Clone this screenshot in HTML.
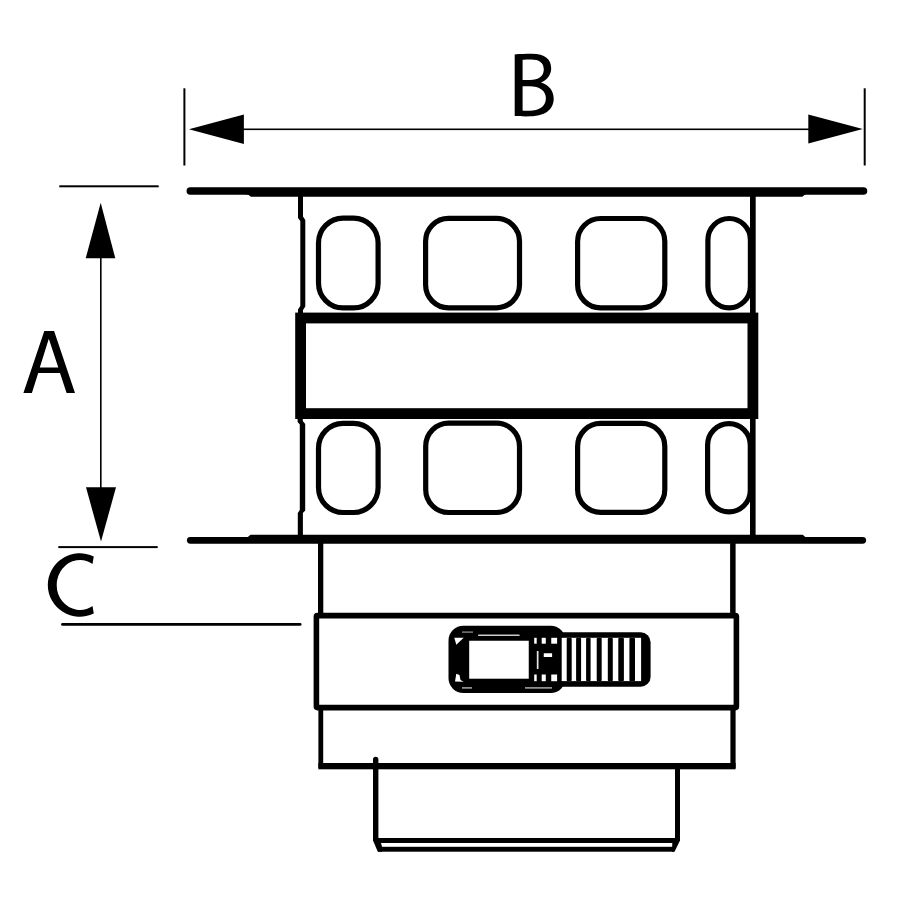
<!DOCTYPE html>
<html><head><meta charset="utf-8">
<style>
html,body{margin:0;padding:0;background:#fff;width:900px;height:900px;overflow:hidden;font-family:"Liberation Sans",sans-serif;}
svg{display:block;}
</style></head>
<body>
<svg width="900" height="900" viewBox="0 0 900 900">
<rect x="0" y="0" width="900" height="900" fill="#fff"/>
<g fill="#000" stroke="none">
  <!-- B dimension -->
  <rect x="183.4" y="88.3" width="2" height="77.2"/>
  <rect x="863.7" y="88.3" width="2" height="77.2"/>
  <rect x="243" y="128.5" width="566" height="1.6"/>
  <polygon points="188.9,129.3 243.9,114.4 243.9,143.9"/>
  <polygon points="862.8,129.1 808.3,114.4 808.3,143.6"/>
  <path fill-rule="evenodd" d="M514.7,54.4 C519,54 526,53.8 532,53.8 C545,53.8 551.2,59.5 551.2,68.5 C551.2,75 547,80 541,82.4 C548.5,84.5 553.7,90.5 553.7,98.5 C553.7,104 551.5,108.5 547.5,111.5 C543,115 536,116.4 526,116.4 C521,116.4 517.5,116.2 514.7,116 Z M522.6,59.8 C524.5,59.6 527.5,59.4 531,59.4 C539,59.4 543.8,62.5 543.8,69.5 C543.8,76 538.5,80 530,80 L522.6,80 Z M522.6,86.2 L529.5,86.2 C539.5,86.2 545.9,90.5 545.9,98.3 C545.9,107 538.5,110.8 529.5,110.8 C526.5,110.8 524.5,110.7 522.6,110.5 Z"/>
  <!-- A dimension -->
  <rect x="59.3" y="185.3" width="99.4" height="2"/>
  <rect x="58.3" y="546.1" width="99.4" height="2"/>
  <rect x="100" y="257" width="1.6" height="231"/>
  <polygon points="100.7,202.7 85.7,258.3 115.3,258.3"/>
  <polygon points="101,541.6 86,487.3 116,487.3"/>
  <path fill-rule="evenodd" d="M23.4,393 L44.3,331 L54.1,331 L75,393 L66.6,393 L60,372.9 L38.2,372.9 L31.9,393 Z M39.8,367.6 L48.8,338.7 L58.3,367.6 Z"/>
  <!-- C dimension -->
  <rect x="61.1" y="623.1" width="240.4" height="2.6" rx="1.3"/>
  <path d="M93.75,556.4 A32.1,31.7 0 1 0 93.75,613.6 L92.5,606.1 A23.3,25 0 1 1 92.5,563.9 Z"/>
</g>

<g fill="none" stroke="#000">
  <!-- top plate -->
  <line x1="190.3" y1="191.1" x2="863.5" y2="191.1" stroke-width="7.5" stroke-linecap="round"/>
  <polygon points="246,191 806,191 806,194.6 805,194.6 802.3,196.7 251,196.7 248,194.6 246,194.6" fill="#000" stroke="none"/>
  <!-- bottom plate -->
  <line x1="190.3" y1="540.3" x2="862.7" y2="540.3" stroke-width="6.8" stroke-linecap="round"/>
  <polygon points="247.8,536.9 250.5,534.8 802.7,534.8 805.3,536.9 805.3,540 247.8,540" fill="#000" stroke="none"/>

  <!-- ovals top -->
  <g stroke-width="5.2">
    <rect x="318.5" y="218.1" width="59.6" height="89.8" rx="24.5" ry="25"/>
    <rect x="425.6" y="218.3" width="93.9" height="89.5" rx="23" ry="23"/>
    <rect x="577.6" y="218.5" width="87.2" height="89.3" rx="23" ry="23"/>
    <rect x="707.9" y="218.5" width="42.5" height="89.3" rx="21.25" ry="21.5"/>
  </g>
  <g stroke-width="5.2">
    <rect x="318.5" y="423.3" width="59.6" height="89.2" rx="24.5" ry="25"/>
    <rect x="425.7" y="423.2" width="93.8" height="89.3" rx="23" ry="23"/>
    <rect x="577.6" y="423.4" width="87.2" height="89" rx="23" ry="23"/>
    <rect x="707.6" y="423.6" width="42.7" height="88.2" rx="21.3" ry="21.5"/>
  </g>
  <!-- band -->
  <rect x="300.6" y="318" width="452.3" height="95.6" stroke-width="10.8"/>
</g>
<g fill="#000">
  <!-- walls upper -->
  <polygon points="298,195 303,195 303,216.5 305.3,220 305.3,306.5 303,310 303,313 298,313 298,309.5 300.3,306 300.3,221 298,218"/>
  <rect x="750" y="195" width="5.7" height="118"/>
  <!-- walls lower -->
  <polygon points="297.6,418 302.8,418 302.8,421 305.2,424 305.2,510.5 302.9,513 302.9,536 297.8,536 297.8,513 299.8,510 299.8,424.5 297.6,422"/>
  <rect x="750" y="418" width="5.6" height="118"/>
  <!-- upper cylinder walls -->
  <rect x="318" y="543" width="5.3" height="71"/>
  <rect x="730.1" y="543" width="5.5" height="71"/>
  <!-- collar -->
</g>
<g fill="none" stroke="#000">
  <!-- collar -->
  <rect x="316.4" y="615.6" width="420" height="92" stroke-width="5.6" rx="1"/>
</g>
<g fill="#000">
  <!-- lower cylinder -->
  <rect x="318.4" y="708" width="4.8" height="60"/>
  <rect x="730.4" y="708" width="5.2" height="60"/>
  <rect x="318.4" y="763" width="417.2" height="6.3"/>
  <!-- spigot -->
  <path d="M373,759.5 A2.7,2.7 0 0 1 378.4,759.5 L378.4,838 L680,838 L680,768 L675,768 L675,843 L378.4,843 L373,840.4 Z"/>
  <polygon points="373,838 378.4,838 381,843 382,846.8 382,851.7 377.8,851.7 373,840.4"/>
  <rect x="378" y="846.8" width="296" height="4.9"/>
  <polygon points="675,838 680,838 680,840.4 674.5,851.7 672,851.7 672.3,843"/>
  <!-- clamp -->
  <rect x="448.5" y="625.7" width="117" height="67.4" rx="15" ry="15"/>
  <rect x="530" y="632.2" width="120.6" height="54.5" rx="10" ry="10"/>
</g>
<g fill="#fff">
  <rect x="469.2" y="640.75" width="59.55" height="37.95"/>
  <rect x="561.7" y="637.8" width="79.4" height="43.3"/>
</g>
<g fill="#000">
  <rect x="566.7" y="637.8" width="5" height="43.3" rx="1.2"/>
  <rect x="576.1" y="637.8" width="5" height="43.3" rx="1.2"/>
  <rect x="586.1" y="637.8" width="4.5" height="43.3" rx="1.2"/>
  <rect x="596.7" y="637.8" width="5" height="43.3" rx="1.2"/>
  <rect x="607.8" y="637.8" width="5" height="43.3" rx="1.2"/>
  <rect x="618.3" y="637.8" width="5.6" height="43.3" rx="1.2"/>
  <rect x="629.4" y="637.8" width="5.6" height="43.3" rx="1.2"/>
</g>
<g fill="#fff">
  <!-- small white details on clamp head -->
  <polygon points="454.3,637.8 463.7,637.8 456.3,644.8"/>
  <polygon points="456.3,673.7 459.5,675 460.5,680 463.7,681.7 455,681.5"/>
  <rect x="478" y="634.6" width="41.7" height="1.5" opacity="0.8" rx="0.7"/>
  <rect x="462" y="631.5" width="11" height="1.2" opacity="0.6"/>
  <rect x="462" y="687.2" width="10" height="1.4" opacity="0.7"/>
  <rect x="525" y="687.2" width="27" height="1.4" opacity="0.7"/>
  <rect x="534.2" y="637.8" width="2.5" height="5.9"/>
  <rect x="541.7" y="637.8" width="4.1" height="5.9"/>
  <rect x="551.25" y="637.8" width="5.85" height="5.9"/>
  <rect x="534.2" y="674.5" width="2.5" height="6.7"/>
  <rect x="541.7" y="674.5" width="4.1" height="6.7"/>
  <rect x="551.25" y="674.5" width="5.85" height="6.7"/>
  <rect x="536.8" y="651" width="1.7" height="18" opacity="0.9"/>
  <rect x="543.75" y="653.25" width="8.35" height="3.75"/>
</g>
</svg>
</body></html>
